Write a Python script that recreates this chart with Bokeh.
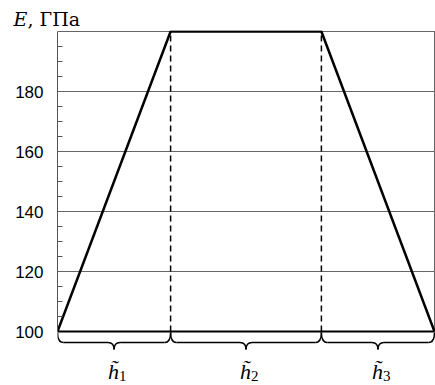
from bokeh.plotting import figure
from bokeh.layouts import column
from bokeh.models import Range1d, FixedTicker, ColumnDataSource
from bokeh.core.properties import value
from bokeh.embed import file_html
from bokeh.resources import INLINE

# Layer thicknesses (relative) and the Young's modulus profile across them
layer_names = ["1", "2", "3"]
layer_thickness = [0.30, 0.40, 0.30]
layer_edges = [0.0, 0.30, 0.70, 1.00]
modulus = [100, 200, 200, 100]   # E, GPa at each layer edge

y_major = [100, 120, 140, 160, 180]
y_minor = [105, 110, 115, 125, 130, 135, 145, 150, 155, 165, 170, 175, 185, 190, 195]
y_grid = [120, 140, 160, 180, 200]

PX_X = 377.0   # pixels per x unit
PX_Y = 3.0     # pixels per GPa
HEAD = 30      # height of the strip holding the axis title
MAIN_H = 385 - HEAD

# --- strip with the axis title "E, ГПа" ---
head = figure(width=435, height=HEAD, output_backend="svg", toolbar_location=None,
              x_axis_location=None, y_axis_location=None, title=None,
              min_border=0, x_range=Range1d(0, 435), y_range=Range1d(HEAD, 0))
head.frame_align = False
head.outline_line_color = None
head.xgrid.visible = False
head.ygrid.visible = False
head.text(x=[13], y=[18], text=["E"], text_font=value("DejaVu Serif"),
          text_font_style="italic", text_font_size="19px",
          text_baseline="alphabetic", text_color="black")
head.text(x=[27], y=[18], text=[", ГПа"], text_font=value("DejaVu Serif"),
          text_font_size="19px", text_baseline="alphabetic", text_color="black")

# --- main chart ---
y_bottom = 100 - 54 / PX_Y
p = figure(width=435, height=MAIN_H, output_backend="svg", toolbar_location=None,
           x_axis_location=None, title=None, min_border_left=57, min_border_right=0,
           min_border_top=0, min_border_bottom=0,
           x_range=Range1d(0, 1 + 1 / PX_X),
           y_range=Range1d(y_bottom, y_bottom + MAIN_H / PX_Y))
p.frame_align = False
p.outline_line_color = None
p.background_fill_color = "white"
p.border_fill_color = "white"

ax = p.yaxis[0]
ax.ticker = FixedTicker(ticks=y_major, minor_ticks=y_minor)
ax.bounds = (100, 200)
ax.axis_line_color = "#555555"
ax.axis_line_width = 1
ax.major_tick_in = 0
ax.major_tick_out = 0
ax.minor_tick_in = 5
ax.minor_tick_out = 0
ax.minor_tick_line_color = "#555555"
ax.major_label_standoff = 14
ax.major_label_text_font = "Liberation Sans"
ax.major_label_text_font_size = "17px"
ax.major_label_text_color = "black"

g = p.ygrid[0]
g.ticker = FixedTicker(ticks=y_grid)
g.grid_line_color = "#666666"
g.grid_line_width = 1
p.xgrid.visible = False

x0, x1 = layer_edges[0], layer_edges[-1]
y0, y1 = min(modulus), max(modulus)

# right frame edge
p.segment(x0=[x1], y0=[y0], x1=[x1], y1=[y1], line_color="#666666", line_width=1)

# layer boundaries
inner = layer_edges[1:-1]
p.segment(x0=inner, y0=[y0] * len(inner), x1=inner, y1=[y1] * len(inner),
          line_color="black", line_width=1.5, line_dash="6 4")

# baseline
p.segment(x0=[x0], y0=[y0], x1=[x1], y1=[y0], line_color="black", line_width=2)

# modulus profile
p.line(layer_edges, modulus, line_color="black", line_width=2.5)

# curly braces under each layer
r = 6 / PX_X
y_end = y0 - 1 / PX_Y
y_body = y0 - 11 / PX_Y
y_tip = y0 - 18 / PX_Y
qx0, qy0, qx1, qy1, qcx, qcy = [], [], [], [], [], []
sx0, sx1 = [], []
mids = []
for a, b in zip(layer_edges[:-1], layer_edges[1:]):
    m = (a + b) / 2
    mids.append(m)
    # outer curls
    qx0 += [a, b]; qy0 += [y_end, y_end]
    qx1 += [a + r, b - r]; qy1 += [y_body, y_body]
    qcx += [a, b]; qcy += [y_body, y_body]
    # central tip
    qx0 += [m - r, m + r]; qy0 += [y_body, y_body]
    qx1 += [m, m]; qy1 += [y_tip, y_tip]
    qcx += [m, m]; qcy += [y_body, y_body]
    sx0 += [a + r, m + r]; sx1 += [m - r, b - r]
p.quadratic(x0=qx0, y0=qy0, x1=qx1, y1=qy1, cx=qcx, cy=qcy,
            line_color="black", line_width=1.5)
p.segment(x0=sx0, y0=[y_body] * len(sx0), x1=sx1, y1=[y_body] * len(sx1),
          line_color="black", line_width=1.5)

# layer labels  h̃_i
lab_y = y0 - 40 / PX_Y
src = ColumnDataSource(dict(x=mids, y=[lab_y] * len(mids),
                            h=["h\u0303"] * len(mids), n=layer_names))
p.text(x="x", y="y", text="h", source=src, text_font=value("Liberation Serif"),
       text_font_style="italic", text_font_size="22px", text_align="right",
       text_baseline="alphabetic", x_offset=5, text_color="black")
p.text(x="x", y="y", text="n", source=src, text_font=value("Liberation Serif"),
       text_font_size="15px", text_align="left", text_baseline="alphabetic",
       x_offset=5, y_offset=4, text_color="black")

layout = column(head, p, spacing=0)
open("out.html", "w").write(file_html(layout, INLINE))
